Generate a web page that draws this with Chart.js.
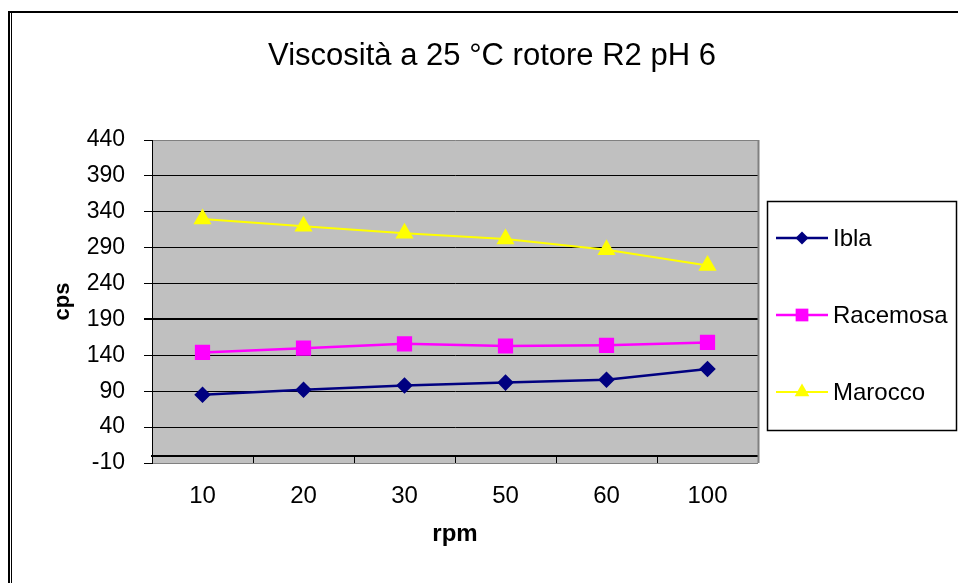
<!DOCTYPE html>
<html>
<head>
<meta charset="utf-8">
<script src="https://cdn.jsdelivr.net/npm/chart.js"></script>
<style>
  body { margin: 0; background: #fff; }
  canvas { display: block; }
</style>
</head>
<body>
<canvas id="grafico" width="958" height="583"></canvas>
<script>
const rpm = ['10', '20', '30', '50', '60', '100'];
const ibla = [85, 92, 98, 102, 106, 121];
const racemosa = [144, 150, 156, 153, 154, 158];
const marocco = [330, 320, 310, 302, 287, 265];
const ticksCps = [-10, 40, 90, 140, 190, 240, 290, 340, 390, 440];

Chart.defaults.font.family = '"Liberation Sans", Arial, sans-serif';
Chart.defaults.color = '#000';

// sfondo bianco, cornice e area grigia del grafico
const sfondo = {
    id: 'sfondo',
    beforeDraw(chart) {
        const {ctx, chartArea: a} = chart;
        ctx.save();
        ctx.fillStyle = '#fff';
        ctx.fillRect(0, 0, chart.width, chart.height);
        ctx.fillStyle = '#c0c0c0';
        ctx.fillRect(a.left, a.top, a.right - a.left, a.bottom - a.top);
        ctx.fillStyle = '#000';
        ctx.fillRect(8, 11, chart.width - 8, 2);
        ctx.fillRect(8, 11, 2, chart.height - 11);
        ctx.fillRect(11, 13, 1, chart.height - 13);
        ctx.restore();
    },
    beforeDatasetsDraw(chart) {
        const {ctx, chartArea: a} = chart;
        ctx.save();
        ctx.strokeStyle = '#808080';
        ctx.lineWidth = 2;
        ctx.beginPath();
        ctx.moveTo(a.right + 0.5, a.top);
        ctx.lineTo(a.right + 0.5, a.bottom);
        ctx.stroke();
        ctx.restore();
    }
};

// legenda a destra con linea + marcatore
const legenda = {
    id: 'legenda',
    afterDraw(chart) {
        const {ctx} = chart;
        ctx.save();
        ctx.strokeStyle = '#000';
        ctx.lineWidth = 1.5;
        ctx.strokeRect(767.5, 201.5, 189, 229);
        ctx.font = '24px "Liberation Sans", Arial, sans-serif';
        ctx.textBaseline = 'middle';
        chart.data.datasets.forEach((ds, i) => {
            const y = 238 + i * 77;
            ctx.strokeStyle = ds.borderColor;
            ctx.lineWidth = ds.borderWidth;
            ctx.beginPath();
            ctx.moveTo(776, y);
            ctx.lineTo(828, y);
            ctx.stroke();
            ctx.fillStyle = ds.pointBackgroundColor;
            Chart.helpers.drawPoint(ctx, {pointStyle: ds.pointStyle, radius: ds.pointRadius, rotation: 0, borderWidth: 0}, 802, y);
            ctx.fillStyle = '#000';
            ctx.fillText(ds.label, 833, y + 1);
        });
        ctx.restore();
    }
};

new Chart(document.getElementById('grafico'), {
    type: 'line',
    data: {
        labels: rpm,
        datasets: [{
            label: 'Ibla',
            data: ibla,
            borderColor: '#000080',
            pointBackgroundColor: '#000080',
            pointBorderColor: '#000080',
            pointStyle: 'rectRot',
            pointRadius: 6.5,
            borderWidth: 2.5
        }, {
            label: 'Racemosa',
            data: racemosa,
            borderColor: '#ff00ff',
            pointBackgroundColor: '#ff00ff',
            pointBorderColor: '#ff00ff',
            pointStyle: 'rect',
            pointRadius: 9,
            borderWidth: 2.5
        }, {
            label: 'Marocco',
            data: marocco,
            borderColor: '#ffff00',
            pointBackgroundColor: '#ffff00',
            pointBorderColor: '#ffff00',
            pointStyle: 'triangle',
            pointRadius: 8.5,
            borderWidth: 2
        }]
    },
    options: {
        responsive: false,
        animation: false,
        layout: {padding: {left: 26}},
        plugins: {
            legend: {display: false},
            tooltip: {enabled: false},
            title: {
                display: true,
                text: 'Viscosità a 25 °C rotore R2 pH 6',
                font: {size: 31, weight: 'normal'},
                color: '#000',
                padding: {top: 37.4, bottom: 65.4}
            }
        },
        scales: {
            x: {
                offset: true,
                grid: {display: false, drawTicks: false},
                border: {display: false},
                ticks: {font: {size: 24}, padding: 19, color: '#000'},
                title: {
                    display: true,
                    text: 'rpm',
                    font: {size: 24, weight: 'bold'},
                    padding: {top: 0, bottom: 34}
                },
                afterFit(s) { s.height = 120; }
            },
            // asse a quota 0 con le tacche delle categorie
            x2: {
                type: 'category',
                labels: rpm,
                position: {y: 0},
                offset: true,
                grid: {offset: true, drawOnChartArea: false, tickLength: 6, color: '#000'},
                border: {color: '#000', width: 2},
                ticks: {display: false},
                afterFit(s) { s.height = 0; }
            },
            y: {
                min: -10,
                max: 440,
                afterBuildTicks(s) { s.ticks = ticksCps.map(v => ({value: v})); },
                grid: {
                    color: c => (c.tick.value === 440 || c.tick.value === -10) ? '#808080' : '#000',
                    lineWidth: c => c.tick.value === 190 ? 2 : 1,
                    tickLength: 8,
                    tickColor: '#000'
                },
                border: {color: '#000', width: 1},
                ticks: {font: {size: 23}, padding: 19, color: '#000'},
                title: {
                    display: true,
                    text: 'cps',
                    font: {size: 22, weight: 'bold'},
                    padding: {top: 24, bottom: 0}
                },
                afterFit(s) { s.width = 126; }
            },
            yr: {
                position: 'right',
                grid: {display: false},
                border: {display: false},
                ticks: {display: false},
                afterFit(s) { s.width = 200; }
            }
        }
    },
    plugins: [sfondo, legenda]
});
</script>
</body>
</html>
